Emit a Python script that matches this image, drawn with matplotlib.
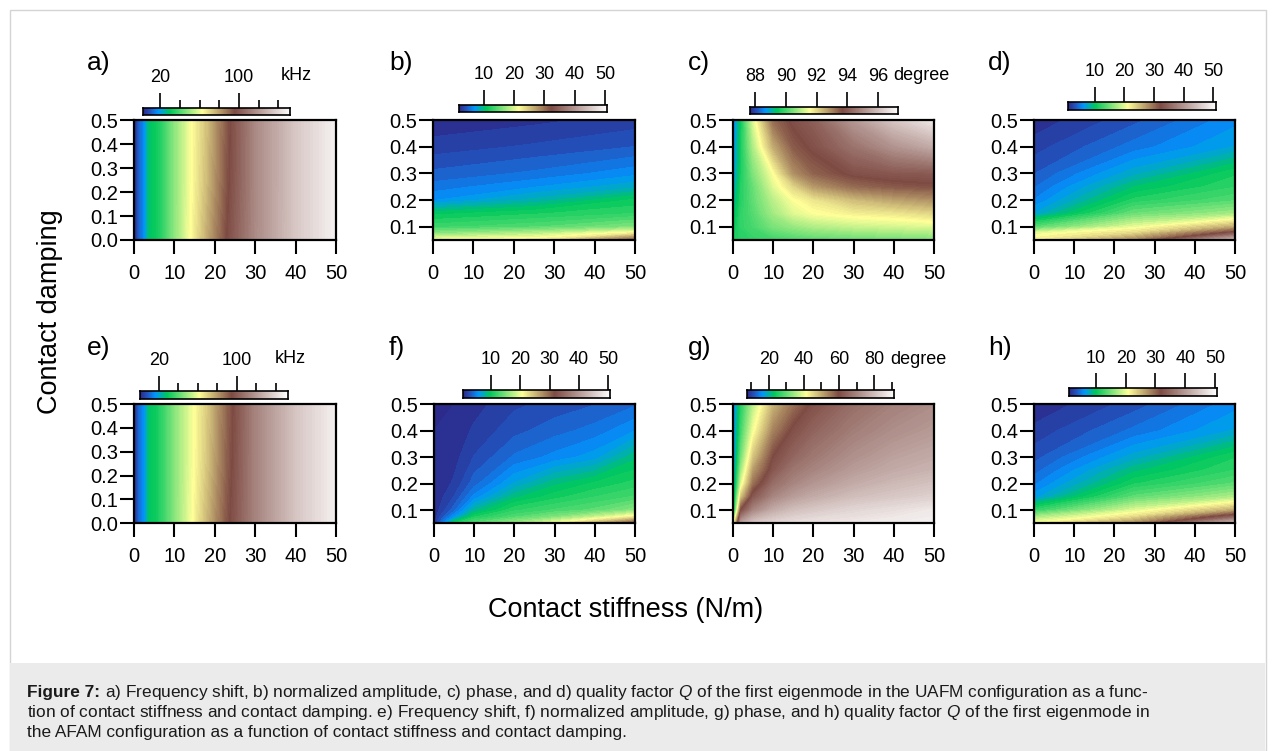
import numpy as np
import matplotlib
matplotlib.use("Agg")
import matplotlib.pyplot as plt
from matplotlib.colors import LinearSegmentedColormap
from matplotlib.patches import Rectangle
from matplotlib.ticker import FormatStrFormatter

W, H = 1275, 751

# contact stiffness (N/m) / contact damping sample grids
k_freq = [0, 1, 2.5, 3.5, 6, 10, 14, 18, 23, 30, 40, 50]
c_freq = [0.0, 0.25, 0.5]
k_lin = [0, 25, 50]
c_lin = [0.05, 0.075, 0.1, 0.15, 0.2, 0.25, 0.3, 0.4, 0.5]
k_phase = [0, 2, 5, 10, 15, 20, 30, 40, 50]
c_phase = [0.05, 0.1, 0.15, 0.2, 0.25, 0.3, 0.4, 0.5]
k_amp_afam = [0, 5, 10, 20, 30, 40, 50]
c_amp_afam = [0.05, 0.075, 0.1, 0.15, 0.2, 0.3, 0.4, 0.5]

# a) frequency shift, UAFM (kHz)
freq_uafm = [
    [2, 9.5, 17, 27.5, 32, 47, 62, 77, 95, 114.5, 134, 147.5],
    [2, 9.5, 17, 27.5, 32, 47, 61, 74, 93, 114, 134, 147.5],
    [2, 9.5, 17, 27.5, 32, 47, 61, 73, 92, 114, 134, 147.5],
]
# b) normalized amplitude, UAFM
amp_uafm = [
    [21.4, 22.4, 31.2],
    [16.5, 18.5, 22.4],
    [13.1, 14.1, 16.0],
    [10.6, 11.6, 12.6],
    [6.7, 8.7, 11.1],
    [5.5, 6.7, 8.2],
    [4.5, 5.3, 6.5],
    [3.0, 3.6, 4.3],
    [2.0, 2.4, 3.0],
]
# c) phase, UAFM (degree)
phase_uafm = [
    [89.6, 89.7, 89.8, 89.9, 90.0, 90.1, 90.2, 90.3, 90.4],
    [89.4, 89.8, 90.0, 90.4, 90.65, 90.85, 91.05, 91.15, 91.25],
    [89.2, 89.8, 90.1, 90.75, 91.25, 91.5, 91.7, 91.8, 92.0],
    [89.0, 89.7, 90.2, 90.95, 91.5, 91.8, 92.3, 92.6, 92.8],
    [88.8, 89.7, 90.25, 91.25, 92.0, 92.7, 93.25, 93.45, 93.55],
    [88.6, 89.6, 90.45, 91.5, 92.8, 93.35, 93.75, 93.9, 93.95],
    [88.5, 89.6, 90.85, 92.5, 93.45, 93.75, 94.45, 95.1, 95.6],
    [88.4, 89.5, 91.25, 93.25, 93.75, 94.05, 95.2, 96.15, 96.85],
]
# d) quality factor Q, UAFM
q_uafm = [
    [21.9, 28.4, 43.5],
    [19.9, 23.4, 33.4],
    [13.4, 19.9, 25.9],
    [6.8, 14.4, 16.9],
    [5.1, 11.3, 13.4],
    [4.1, 9.3, 11.8],
    [3.3, 7.3, 10.8],
    [2.1, 4.6, 6.8],
    [1.05, 3.1, 5.6],
]
# e) frequency shift, AFAM (kHz)
freq_afam = [
    [1.5, 10, 17, 27, 32, 46, 60, 75, 93, 113, 134, 148],
    [1.5, 10, 17, 27, 32, 46, 59, 72, 91, 113, 134, 148],
    [1.5, 10, 17, 27, 32, 46, 59, 71, 90, 113, 134, 148],
]
# f) normalized amplitude, AFAM
amp_afam = [
    [0.8, 10.4, 13.4, 16.4, 20.5, 25.5, 31.5],
    [0.6, 5.4, 10.4, 12.9, 14.9, 17.9, 21.5],
    [0.5, 3.4, 7.9, 11.2, 12.4, 13.4, 15.4],
    [0.4, 2.1, 4.9, 8.6, 10.2, 11.4, 12.4],
    [0.4, 1.35, 3.4, 6.4, 8.6, 9.9, 10.9],
    [0.35, 0.85, 2.1, 3.9, 4.9, 5.9, 8.6],
    [0.34, 0.6, 1.35, 2.6, 3.4, 4.1, 5.4],
    [0.34, 0.34, 0.84, 1.85, 2.35, 2.85, 3.6],
]
# g) phase, AFAM (degree)
phase_afam = [
    [36.8, 74.5, 81.2, 83.7, 85.3, 86.2, 87.0, 87.9, 88.7],
    [17.5, 59.4, 69.4, 76.1, 79.5, 81.2, 83.7, 85.3, 87.0],
    [15.9, 46.8, 61.5, 69.4, 73.6, 76.1, 79.5, 81.2, 82.8],
    [15.0, 38.5, 55.2, 65.3, 69.4, 72.4, 76.1, 78.6, 80.3],
    [14.6, 34.3, 51.0, 61.5, 66.9, 69.4, 73.6, 76.1, 77.8],
    [14.2, 30.9, 46.8, 59.4, 64.0, 67.3, 71.5, 74.5, 76.1],
    [14.2, 27.2, 40.1, 53.5, 60.2, 63.6, 68.2, 71.1, 73.2],
    [14.2, 25.1, 36.0, 48.5, 55.2, 60.2, 65.3, 68.6, 70.7],
]
# h) quality factor Q, AFAM
q_afam = [
    [21.0, 28.0, 44.0],
    [17.0, 23.0, 34.0],
    [12.0, 19.5, 26.0],
    [6.5, 14.0, 17.5],
    [5.0, 11.0, 13.8],
    [4.0, 9.2, 12.0],
    [3.2, 7.3, 11.0],
    [2.1, 4.6, 7.0],
    [1.1, 3.1, 5.7],
]

# colour scale limits
lim_freq_u = (2.0, 152.0)
lim_amp_u = (1.8, 50.8)
lim_phase_u = (87.65, 97.33)
lim_q_u = (0.8, 51.0)
lim_freq_a = (1.1, 153.0)
lim_amp_a = (0.34, 50.6)
lim_phase_a = (7.5, 91.2)
lim_q_a = (1.0, 50.7)

plt.rcParams['font.family'] = ['Liberation Sans', 'DejaVu Sans']
plt.rcParams['mathtext.fontset'] = 'custom'
plt.rcParams['mathtext.rm'] = 'Liberation Sans'
plt.rcParams['mathtext.it'] = 'Liberation Sans:italic'
plt.rcParams['mathtext.bf'] = 'Liberation Sans:bold'

cmap = LinearSegmentedColormap.from_list('terrain_igor', [
    (0.00, '#2c2a8a'),
    (0.05, '#2258c4'),
    (0.10, '#0096ff'),
    (0.18, '#00c85c'),
    (0.40, '#ffff99'),
    (0.62, '#7e4b43'),
    (1.00, '#ffffff'),
])

fig = plt.figure(figsize=(W / 100, H / 100), dpi=100)


def px_rect(x0, y0, x1, y1):
    return [x0 / W, 1 - y1 / H, (x1 - x0) / W, (y1 - y0) / H]


def fig_text(x, y, s, **kw):
    return fig.text(x / W, 1 - y / H, s, **kw)


def heat_panel(rect, k, c, z, vlim, ylim, yticks, nlev):
    ax = fig.add_axes(px_rect(*rect))
    lev = np.linspace(vlim[0], vlim[1], nlev)
    ax.contourf(k, c, np.array(z), levels=lev, cmap=cmap, extend='both',
                antialiased=False)
    ax.set_xlim(0, 50)
    ax.set_ylim(*ylim)
    ax.set_xticks([0, 10, 20, 30, 40, 50])
    ax.set_yticks(yticks)
    ax.yaxis.set_major_formatter(FormatStrFormatter('%.1f'))
    ax.tick_params(direction='out', length=10, width=1.5, labelsize=14.5,
                   top=False, right=False)
    ax.tick_params(axis='y', pad=1.5)
    ax.tick_params(axis='x', pad=7)
    for sp in ax.spines.values():
        sp.set_linewidth(1.6)
    return ax


def color_bar(rect, vlim, major, minor=None):
    cax = fig.add_axes(px_rect(*rect))
    grad = np.linspace(vlim[0], vlim[1], 300)[None, :]
    cax.imshow(grad, extent=[vlim[0], vlim[1], 0, 1], aspect='auto',
               cmap=cmap, vmin=vlim[0], vmax=vlim[1], interpolation='bilinear')
    cax.set_xlim(*vlim)
    cax.set_yticks([])
    cax.xaxis.tick_top()
    cax.set_xticks(major)
    if minor is not None:
        cax.set_xticks(minor, minor=True)
    cax.tick_params(axis='x', which='major', direction='out', length=10.5,
                    width=1.2, pad=5, labelsize=13)
    cax.tick_params(axis='x', which='minor', direction='out', length=5.5,
                    width=1.2)
    for sp in cax.spines.values():
        sp.set_linewidth(1.2)
    return cax


y_full = [0.0, 0.1, 0.2, 0.3, 0.4, 0.5]
y_part = [0.1, 0.2, 0.3, 0.4, 0.5]

# top row: UAFM
heat_panel((134, 120, 336, 240), k_freq, c_freq, freq_uafm, lim_freq_u, (0, 0.5), y_full, 150)
heat_panel((433, 120, 635, 240), k_lin, c_lin, amp_uafm, lim_amp_u, (0.05, 0.5), y_part, 60)
heat_panel((733, 120, 934, 240), k_phase, c_phase, phase_uafm, lim_phase_u, (0.05, 0.5), y_part, 150)
heat_panel((1034, 120, 1235, 240), k_lin, c_lin, q_uafm, lim_q_u, (0.05, 0.5), y_part, 60)

# bottom row: AFAM
heat_panel((134, 404, 336, 523.3), k_freq, c_freq, freq_afam, lim_freq_a, (0, 0.5), y_full, 150)
heat_panel((434, 404, 635, 523.3), k_amp_afam, c_amp_afam, amp_afam, lim_amp_a, (0.05, 0.5), y_part, 60)
heat_panel((733, 404, 934, 523.3), k_phase, c_phase, phase_afam, lim_phase_a, (0.05, 0.5), y_part, 150)
heat_panel((1034, 404, 1235, 523.3), k_lin, c_lin, q_afam, lim_q_a, (0.05, 0.5), y_part, 60)

# colour bars
ten_to_fifty = [10, 20, 30, 40, 50]
color_bar((142.7, 107.7, 290, 115), lim_freq_u, [20, 100], [40, 60, 80, 120, 140])
color_bar((459, 105, 607.3, 112), lim_amp_u, ten_to_fifty)
color_bar((750, 106.7, 898.3, 114), lim_phase_u, [88, 90, 92, 94, 96])
color_bar((1067.7, 102, 1216, 110), lim_q_u, ten_to_fifty)
color_bar((140.3, 390.7, 288.3, 398.7), lim_freq_a, [20, 100], [40, 60, 80, 120, 140])
color_bar((462.7, 390, 610, 398), lim_amp_a, ten_to_fifty)
color_bar((746.7, 390, 894, 398), lim_phase_a, [20, 40, 60, 80], [10, 30, 50, 70, 90])
color_bar((1069.3, 388.3, 1217, 395.7), lim_q_a, ten_to_fifty)

# units next to the colour bar labels
fig_text(281, 80, 'kHz', fontsize=13, va='baseline')
fig_text(893, 80, 'degree', fontsize=13, va='baseline')
fig_text(275, 363, 'kHz', fontsize=13, va='baseline')
fig_text(890, 364, 'degree', fontsize=13, va='baseline')

# panel letters
for lab, x, y in [('a)', 87, 63), ('b)', 389, 63), ('c)', 688, 63), ('d)', 988, 63),
                  ('e)', 87, 348), ('f)', 389, 348), ('g)', 688, 348), ('h)', 988, 348)]:
    fig_text(x, y, lab, fontsize=19, va='center', ha='left')

fig_text(626, 610, 'Contact stiffness (N/m)', fontsize=19.5, ha='center', va='center')
fig_text(50, 312, 'Contact damping', fontsize=19.5, ha='center', va='center', rotation=90)

# outer frame and caption box
fig.patches.append(Rectangle((9.5 / W, 0), 1256 / W, 1 - 9.5 / H, transform=fig.transFigure,
                             fill=False, edgecolor='#d4d4d4', linewidth=1.0))
fig.patches.append(Rectangle((10 / W, 0), 1255 / W, (H - 663) / H, transform=fig.transFigure,
                             facecolor='#ebebeb', edgecolor='none'))

cap_size = 12.4
cap_color = '#1a1a1a'
renderer = fig.canvas.get_renderer()
bold = fig_text(27, 697, 'Figure 7:', fontsize=cap_size, fontweight='bold', color=cap_color,
                va='baseline')
bw = bold.get_window_extent(renderer).width
space = 0.278 * cap_size * 100 / 72
fig_text(27 + bw + space, 697,
         r'a) Frequency shift, b) normalized amplitude, c) phase, and d) quality factor $Q$ '
         r'of the first eigenmode in the UAFM configuration as a func-',
         fontsize=cap_size, color=cap_color, va='baseline')
fig_text(27, 717,
         r'tion of contact stiffness and contact damping. e) Frequency shift, f) normalized '
         r'amplitude, g) phase, and h) quality factor $Q$ of the first eigenmode in',
         fontsize=cap_size, color=cap_color, va='baseline')
fig_text(27, 737, 'the AFAM configuration as a function of contact stiffness and contact damping.',
         fontsize=cap_size, color=cap_color, va='baseline')

fig.savefig('out.png', dpi=100)
